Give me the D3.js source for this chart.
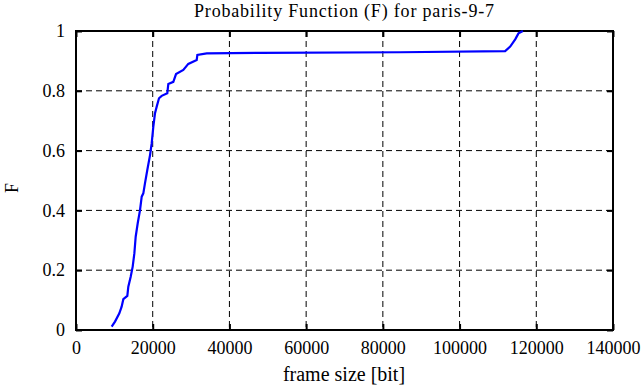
<!DOCTYPE html>
<html><head><meta charset="utf-8">
<script src="https://cdn.jsdelivr.net/npm/d3@7"></script>
<style>body{margin:0;background:#fff;} svg{display:block;} svg text{font-family:"Liberation Serif","Times New Roman",serif !important;fill:#000;}</style>
</head><body>
<svg id="chart" width="644" height="387"></svg>
<script>
const title = "Probability Function (F) for paris-9-7";
const xLabel = "frame size [bit]";
const yLabel = "F";
const xTicks = [0, 20000, 40000, 60000, 80000, 100000, 120000, 140000];
const yTicks = [0, 0.2, 0.4, 0.6, 0.8, 1];
const frameSize = [9300,10170,11300,11900,12340,13380,13640,14260,14780,15220,15560,16090,16690,17130,17550,17990,18590,19300,19730,20160,20600,21040,21640,22340,23800,24070,25370,26080,27980,29280,31470,31640,34080,48000,84490,111880,113200,114500,115360,116500];
const probF = [0.011,0.028,0.056,0.078,0.103,0.114,0.145,0.178,0.212,0.257,0.312,0.357,0.401,0.446,0.457,0.491,0.535,0.585,0.624,0.680,0.725,0.747,0.775,0.783,0.792,0.823,0.830,0.856,0.870,0.890,0.903,0.920,0.925,0.927,0.929,0.933,0.948,0.972,0.992,1.0];

const svg = d3.select("#chart");
const L = 76, R = 613, T = 31, B = 330;
const x = d3.scaleLinear().domain([0, 140000]).range([L, R]);
const y = d3.scaleLinear().domain([0, 1]).range([B, T]);
const fmtY = d => d === 0 ? "0" : d === 1 ? "1" : String(d);
const serif = '"Liberation Serif","Times New Roman",serif';

// grid
const grid = svg.append("g");
grid.selectAll(".gx").data(xTicks.slice(1, -1)).enter().append("line")
  .attr("x1", d => x(d)).attr("x2", d => x(d)).attr("y1", T).attr("y2", B)
  .attr("stroke", "#000").attr("stroke-width", 1).attr("stroke-dasharray", "6,4");
grid.selectAll(".gy").data(yTicks.slice(1, -1)).enter().append("line")
  .attr("y1", d => y(d)).attr("y2", d => y(d)).attr("x1", L).attr("x2", R)
  .attr("stroke", "#000").attr("stroke-width", 1).attr("stroke-dasharray", "6,4");

// axes (ticks inward)
const ax = svg.append("g").attr("transform", `translate(0,${B})`)
  .call(d3.axisBottom(x).tickValues(xTicks).tickSize(-6).tickPadding(11).tickFormat(d3.format("d")));
const axT = svg.append("g").attr("transform", `translate(0,${T})`)
  .call(d3.axisTop(x).tickValues(xTicks).tickSize(-6).tickFormat(""));
const ay = svg.append("g").attr("transform", `translate(${L},0)`)
  .call(d3.axisLeft(y).tickValues(yTicks).tickSize(-6).tickPadding(11).tickFormat(fmtY));
const ayR = svg.append("g").attr("transform", `translate(${R},0)`)
  .call(d3.axisRight(y).tickValues(yTicks).tickSize(-6).tickFormat(""));
[ax, axT, ay, ayR].forEach(g => {
  g.attr("font-family", serif).attr("font-size", 18);
  g.select(".domain").remove();
  g.selectAll("line").attr("stroke", "#000").attr("stroke-width", 2);
  g.selectAll("text").attr("fill", "#000");
});

// frame
svg.append("rect").attr("x", L).attr("y", T).attr("width", R - L).attr("height", B - T)
  .attr("fill", "none").attr("stroke", "#000").attr("stroke-width", 2);

// curve
const pts = frameSize.map((v, i) => [v, probF[i]]);
svg.append("path").datum(pts)
  .attr("d", d3.line().x(d => x(d[0])).y(d => y(d[1])))
  .attr("fill", "none").attr("stroke", "#0000ff").attr("stroke-width", 2.2);

// labels
svg.append("text").attr("x", 344).attr("y", 17).attr("text-anchor", "middle")
  .attr("font-size", 18).attr("textLength", 300).attr("lengthAdjust", "spacing").text(title);
svg.append("text").attr("x", 344).attr("y", 381).attr("text-anchor", "middle")
  .attr("font-size", 20).text(xLabel);
svg.append("text").attr("transform", `translate(18,188) rotate(-90)`).attr("text-anchor", "middle")
  .attr("font-size", 18).text(yLabel);
</script>
</body></html>
